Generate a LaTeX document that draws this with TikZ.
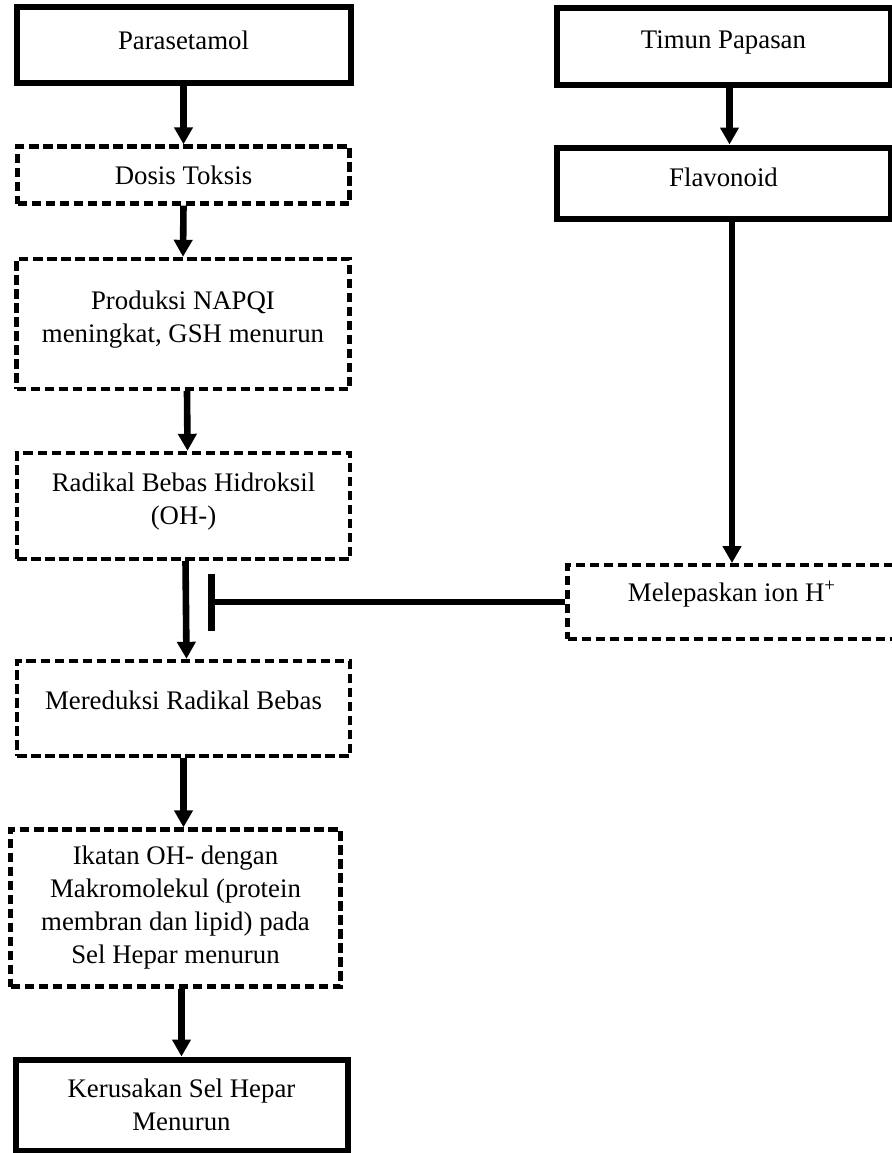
\documentclass[tikz,border=0pt]{standalone}
\usepackage{fontspec}
\setmainfont{Liberation Serif}
\usetikzlibrary{arrows.meta}

% raise the text inside a box without changing its size
\newcommand{\liftup}[2]{\raisebox{#1}[\height][\depth]{#2}}

\tikzset{
  solidbox/.style={draw, line width=3pt, align=center, inner sep=0pt},
  dashbox/.style={draw, line width=2.2pt, dash pattern=on 4.75pt off 2.25pt, align=center, inner sep=0pt},
  flow/.style={line width=3.3pt, -{Triangle[length=8.5pt,width=9pt]}},
  inhibit/.style={line width=3.3pt, -{Bar[width=28.5pt]}},
}

\begin{document}
\begin{tikzpicture}[x=0.5pt, y=-0.5pt, font=\fontsize{13.4}{16.5}\selectfont]

\useasboundingbox (0,0) rectangle (892,1153);

% Left column
\node[solidbox, minimum width=167pt, minimum height=38pt] (para) at (183.5,45) {\liftup{2.5pt}{Parasetamol}};
\node[dashbox, minimum width=166pt, minimum height=28.5pt] (dosis) at (183.5,175) {Dosis Toksis};
\node[dashbox, minimum width=166.5pt, minimum height=65pt] (napqi) at (183,324) {\liftup{2.5pt}{\begin{tabular}{@{}c@{}}Produksi NAPQI\\meningkat, GSH menurun\end{tabular}}};
\node[dashbox, minimum width=166.5pt, minimum height=53pt] (radikal) at (183.5,506) {\liftup{2.5pt}{\begin{tabular}{@{}c@{}}Radikal Bebas Hidroksil\\(OH-)\end{tabular}}};
\node[dashbox, minimum width=166.5pt, minimum height=47.5pt] (reduksi) at (183.5,708.5) {\liftup{4pt}{Mereduksi Radikal Bebas}};
\node[dashbox, minimum width=165pt, minimum height=78.5pt] (ikatan) at (175.5,908) {Ikatan OH- dengan\\Makromolekul (protein\\membran dan lipid) pada\\Sel Hepar menurun};
\node[solidbox, minimum width=166pt, minimum height=45.5pt] (rusak) at (181.5,1105) {Kerusakan Sel Hepar\\Menurun};

% Right column
\node[solidbox, minimum width=167pt, minimum height=38.5pt] (timun) at (723.5,46) {\liftup{2pt}{Timun Papasan}};
\node[solidbox, minimum width=167pt, minimum height=35.5pt] (flavo) at (723.5,183) {\liftup{3pt}{Flavonoid}};
\node[dashbox, minimum width=164.5pt, minimum height=36.75pt] (ion) at (732,602) {\liftup{4pt}{Melepaskan ion H\textsuperscript{+}}};

% Inhibition end
\coordinate (blok) at (208,605);

% Arrows down the left column
\draw[flow] (para.south) -- (dosis.north);
\draw[flow] (dosis.south) -- (napqi.north);
\draw[flow] ([xshift=2pt]napqi.south) -- ([xshift=2pt]radikal.north);
\draw[flow] ([xshift=1pt]radikal.south) -- ([xshift=1.5pt]reduksi.north);
\draw[flow] (reduksi.south) -- (reduksi.south |- ikatan.north);
\draw[flow] (ikatan.south -| rusak.north) -- (rusak.north);

% Arrows down the right column
\draw[flow] ([xshift=3pt]timun.south) -- ([xshift=3pt]flavo.north);
\draw[flow] (flavo.south -| ion.north) -- (ion.north);

% Flavonoid blocks the radicals
\draw[inhibit] (ion.west) -- (ion.west -| blok);

\end{tikzpicture}
\end{document}
